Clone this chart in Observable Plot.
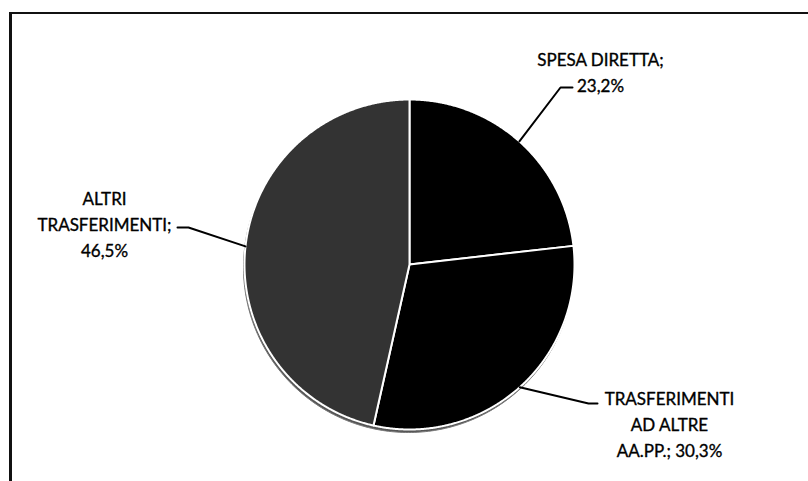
<!DOCTYPE html>
<html><head><meta charset="utf-8">
<script src="https://cdn.jsdelivr.net/npm/d3@7"></script>
<script src="https://cdn.jsdelivr.net/npm/@observablehq/plot@0.6"></script>
<style>
html,body{margin:0;padding:0;background:#fff;overflow:hidden;}
#wrap{position:relative;width:808px;height:481px;overflow:hidden;}
#chart svg{display:block;}
#ftop{position:absolute;left:9px;top:12px;width:799px;height:2px;background:#111;pointer-events:none;}
#fleft{position:absolute;left:9px;top:12px;width:3px;height:469px;background:#111;pointer-events:none;}
</style></head><body><div id="wrap"><div id="chart"></div><div id="ftop"></div><div id="fleft"></div></div>
<script>
// ---- data ----
const categories = ["SPESA DIRETTA", "TRASFERIMENTI AD ALTRE AA.PP.", "ALTRI TRASFERIMENTI"];
const values = [23.2, 30.3, 46.5];
const labelTexts = ["SPESA DIRETTA;\n23,2%", "TRASFERIMENTI\nAD ALTRE\nAA.PP.; 30,3%", "ALTRI\nTRASFERIMENTI;\n46,5%"];
const colors = ["#000000", "#000000", "#333333"];

// ---- layout ----
const W = 808, H = 481;
const cx = 409, cy = 264, r = 165;
// label block centre and leader elbow/end, as offsets from pie centre (pixels)
const labelPos = [[191, -194], [260, 158], [-305, -42]];
const leaderPts = [[[151, -177], [163, -177]], [[179, 139], [188, 139]], [[-221, -37], [-232, -37]]];

const arcs = d3.pie().sort(null).value(d => d)(values);
const pt = (a, rr) => [cx + rr * Math.sin(a), cy - rr * Math.cos(a)];

const slices = [];
arcs.forEach((a, i) => {
  slices.push({k: categories[i], x: cx, y: cy});
  const n = Math.max(2, Math.ceil((a.endAngle - a.startAngle) / 0.005));
  for (let j = 0; j <= n; j++) {
    const t = a.startAngle + (a.endAngle - a.startAngle) * j / n;
    const [x, y] = pt(t, r);
    slices.push({k: categories[i], x, y});
  }
});
const shadow = d3.range(0, 361).map(d => {
  const [x, y] = pt(d * Math.PI / 180, r);
  return {x: x - 1, y: y + 3};
});
const leaders = [];
arcs.forEach((a, i) => {
  const mid = (a.startAngle + a.endAngle) / 2;
  const [x0, y0] = pt(mid, r);
  leaders.push({k: i, x: x0, y: y0});
  leaderPts[i].forEach(([dx, dy]) => leaders.push({k: i, x: cx + dx, y: cy + dy}));
});
const labels = labelTexts.map((t, i) => ({t, x: cx + labelPos[i][0], y: cy + labelPos[i][1]}));

const chart = Plot.plot({
  width: W, height: H,
  margin: 0,
  x: {domain: [0, W], range: [0, W], axis: null},
  y: {domain: [0, H], range: [0, H], axis: null},
  color: {type: "ordinal", domain: categories, range: colors},
  style: {fontFamily: "Lato, sans-serif", background: "#fff"},
  marks: [
    Plot.line(shadow, {x: "x", y: "y", curve: "linear-closed", fill: "#555", stroke: "#777", strokeWidth: 1}),
    Plot.line(slices, {x: "x", y: "y", z: "k", fill: "k", stroke: "#fff", strokeWidth: 2, curve: "linear-closed", strokeLinejoin: "round"}),
    Plot.line(leaders, {x: "x", y: "y", z: "k", stroke: "#000", strokeWidth: 2}),
    Plot.text(labels, {x: "x", y: "y", text: "t", fontSize: 17, lineHeight: 1.55, textAnchor: "middle", lineAnchor: "middle", fill: "#000", stroke: "#000", strokeWidth: 0.35})
  ]
});
document.getElementById("chart").appendChild(chart);
</script>
</body></html>
